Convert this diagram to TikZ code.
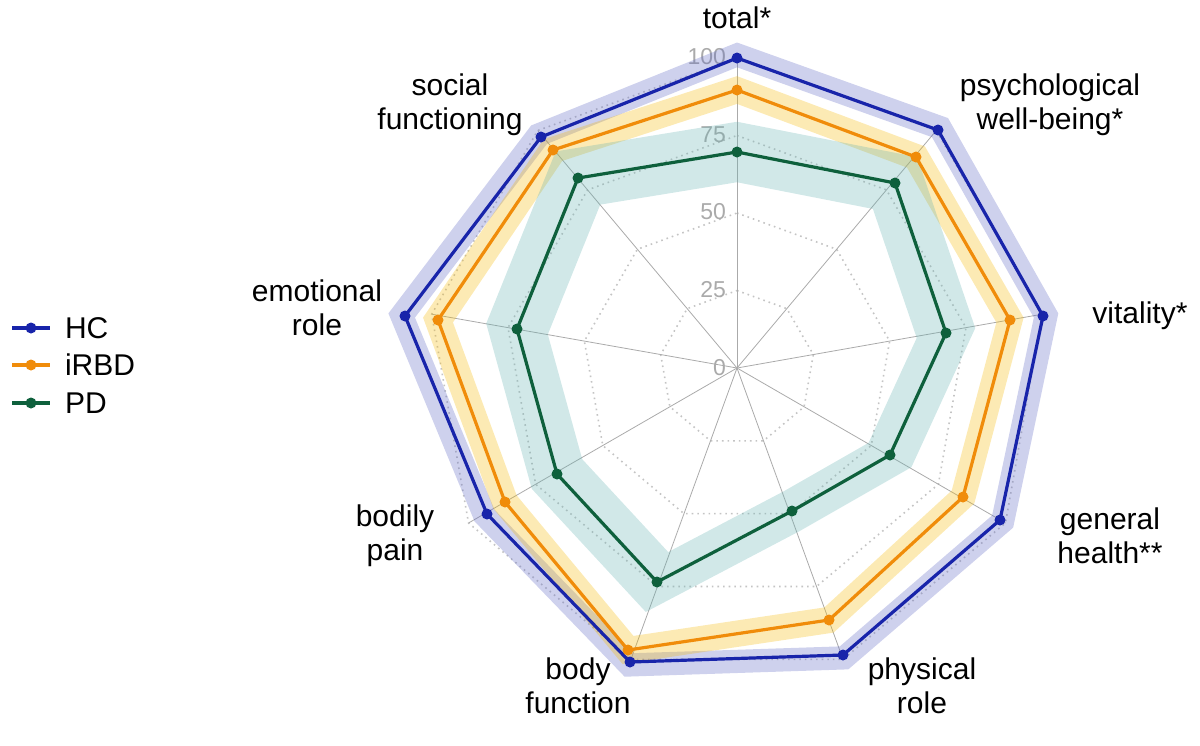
\documentclass[tikz,border=0pt]{standalone}
\usepackage{fontspec}
\setmainfont{Liberation Sans}
\usetikzlibrary{calc}
\definecolor{hc}{RGB}{24,36,170}
\definecolor{rb}{RGB}{240,140,10}
\definecolor{pd}{RGB}{14,96,60}
\definecolor{gr}{RGB}{170,170,170}
\tikzset{lab/.style={font=\fontsize{15}{17}\selectfont,align=center},
 tick/.style={font=\fontsize{11.5}{13}\selectfont,text=gr},
 dot/.style={circle,inner sep=0pt,minimum size=5.5pt},
 ser/.style={line width=1.6pt}}
\begin{document}
\begin{tikzpicture}[x=0.5pt,y=-0.5pt]
\useasboundingbox (0,0) rectangle (1200,745);
\coordinate (c) at (737,368);
% grid
\foreach \r in {77.5,155,232.5,310}{
 \draw[gr!70,dotted,thick] ($(c)+(90:\r*0.5pt)$) \foreach \a in {50,10,-30,-70,-110,-150,-190,-230}{ -- ($(c)+(\a:\r*0.5pt)$)} -- cycle;}
\foreach \a in {90,50,10,-30,-70,-110,-150,-190,-230}{\draw[gr,thin] (c) -- ($(c)+(\a:155pt)$);}
\foreach \v/\yy in {0/368,25/290,50/212,75/135,100/57}{\node[tick,anchor=east] at (733,\yy) {\v};}
% data
\foreach \x/\y [count=\i] in {737/58,938/130,1043/316,1000/520,843/655,630/662,487/514,405/316,541/137}{\coordinate (h\i) at (\x,\y);}
\foreach \x/\y [count=\i] in {737/90,916/157,1010/320,963/497,829/620,628/650,505/502,438/320,553/150}{\coordinate (o\i) at (\x,\y);}
\foreach \x/\y [count=\i] in {737/152,895/183,946/333,890/455,792/511,657/582,557/474,517/329,578/178}{\coordinate (g\i) at (\x,\y);}
\newcommand\band[4]{%
 \fill[#2,opacity=0.3,even odd rule]
 ($(c)!#3!(#11)$) \foreach \i in {2,...,9}{ -- ($(c)!#3!(#1\i)$)} -- cycle
 ($(c)!#4!(#11)$) \foreach \i in {2,...,9}{ -- ($(c)!#4!(#1\i)$)} -- cycle;}
\newcommand\series[2]{%
 \draw[ser,#2] (#11) \foreach \i in {2,...,9}{ -- (#1\i)} -- cycle;
 \foreach \i in {1,...,9}{\node[dot,fill=#2] (#1d\i) at (#1\i) {};}}
\band{h}{hc!70!white}{1.05}{0.97}
\band{o}{rb!60!yellow}{1.05}{0.95}
\band{g}{teal!60!white}{1.14}{0.86}
\series{h}{hc}
\series{o}{rb}
\series{g}{pd}
% labels
\node[lab] (l1) at (737,18) {total*};
\node[lab] (l2) at (1050,105) {psychological\\well-being*};
\node[lab] (l3) at (1140,316) {vitality*};
\node[lab] (l4) at (1110,536) {general\\health**};
\node[lab] (l5) at (922,686) {physical\\role};
\node[lab] (l6) at (578,686) {body\\function};
\node[lab] (l7) at (395,536) {bodily\\pain};
\node[lab] (l8) at (317,308) {emotional\\role};
\node[lab] (l9) at (450,105) {social\\functioning};
% legend
\foreach \n/\t/\yy/\k in {hc/HC/328/a,rb/iRBD/365/b,pd/PD/403/c}{
 \coordinate (\k1) at (12,\yy); \coordinate (\k2) at (50,\yy);
 \draw[ser,\n] (\k1) -- (\k2);
 \node[dot,fill=\n] (\k m) at (31,\yy) {};
 \node[lab,anchor=west] (\k t) at (58,\yy) {\t};}
\end{tikzpicture}
\end{document}
